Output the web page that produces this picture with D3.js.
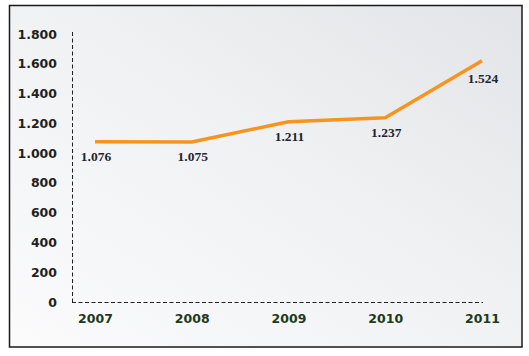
<!DOCTYPE html>
<html>
<head>
<meta charset="utf-8">
<script src="https://cdn.jsdelivr.net/npm/d3@7"></script>
<style>
  html, body { margin: 0; padding: 0; background: #ffffff; }
  svg { display: block; }
</style>
</head>
<body>
<svg id="chart" width="529" height="356"></svg>
<script>
// ---- data ----
const years = ["2007", "2008", "2009", "2010", "2011"];
// line values as drawn in the picture
const lineValues = [1076, 1075, 1211, 1237, 1620];
// value labels as printed in the picture
const valueLabels = ["1.076", "1.075", "1.211", "1.237", "1.524"];
const yTicks = [0, 200, 400, 600, 800, 1000, 1200, 1400, 1600, 1800];

const svg = d3.select("#chart");

// background frame with gradient
const defs = svg.append("defs");
const grad = defs.append("linearGradient")
  .attr("id", "bg").attr("x1", "0").attr("y1", "1").attr("x2", "1").attr("y2", "0");
grad.append("stop").attr("offset", "0").attr("stop-color", "#fbfbfc");
grad.append("stop").attr("offset", "0.55").attr("stop-color", "#f0f1f3");
grad.append("stop").attr("offset", "1").attr("stop-color", "#e2e4e7");

svg.append("rect")
  .attr("x", 9.5).attr("y", 5.5).attr("width", 512.5).attr("height", 341.5)
  .attr("fill", "url(#bg)").attr("stroke", "#1a1a1a").attr("stroke-width", 1.5);

const locale = d3.formatLocale({ decimal: ",", thousands: ".", grouping: [3], currency: ["", ""] });
const fmt = locale.format(",.0f");

const y = d3.scaleLinear().domain([0, 1800]).range([302, 34]);
const x = d3.scalePoint().domain(years).range([95, 482]);

const axisX0 = 72;

// y axis
const yAxis = svg.append("g")
  .attr("transform", `translate(${axisX0},0)`)
  .call(d3.axisLeft(y).tickValues(yTicks).tickFormat(fmt).tickSize(0).tickPadding(15));
yAxis.select(".domain").remove();
yAxis.selectAll("text")
  .attr("font-family", "'DejaVu Sans', sans-serif")
  .attr("font-weight", "bold")
  .attr("font-size", 12.5)
  .attr("fill", "#231f20");

// dashed axis lines
svg.append("line")
  .attr("x1", axisX0 + 0.5).attr("x2", axisX0 + 0.5)
  .attr("y1", y(1800) - 2).attr("y2", y(0))
  .attr("stroke", "#231f20").attr("stroke-width", 1).attr("stroke-dasharray", "4,2.5");
svg.append("line")
  .attr("x1", axisX0).attr("x2", 483)
  .attr("y1", y(0) + 0.5).attr("y2", y(0) + 0.5)
  .attr("stroke", "#231f20").attr("stroke-width", 1).attr("stroke-dasharray", "4,2.5");

// x axis
const xAxis = svg.append("g")
  .attr("transform", `translate(0,${y(0)})`)
  .call(d3.axisBottom(x).tickSize(0).tickPadding(12.5));
xAxis.select(".domain").remove();
xAxis.selectAll("text")
  .attr("font-family", "'DejaVu Sans', sans-serif")
  .attr("font-weight", "bold")
  .attr("font-size", 12.5)
  .attr("fill", "#1e3a1c");

// line
const pts = years.map((yr, i) => ({ yr, v: lineValues[i], label: valueLabels[i] }));
const line = d3.line().x(d => x(d.yr)).y(d => y(d.v));
svg.append("path")
  .datum(pts)
  .attr("d", line)
  .attr("fill", "none")
  .attr("stroke", "#f7941d")
  .attr("stroke-width", 3.5)
  .attr("stroke-linejoin", "round");

// value labels
svg.selectAll(".vlabel")
  .data(pts)
  .enter().append("text")
  .attr("class", "vlabel")
  .attr("x", d => x(d.yr) + 1)
  .attr("y", (d, i) => y(d.v) + (i === 4 ? 22.5 : 19))
  .attr("text-anchor", "middle")
  .attr("font-family", "'Liberation Serif', 'Times New Roman', serif")
  .attr("font-weight", "bold")
  .attr("font-size", 13.5)
  .attr("fill", "#1f2433")
  .text(d => d.label);
</script>
</body>
</html>
